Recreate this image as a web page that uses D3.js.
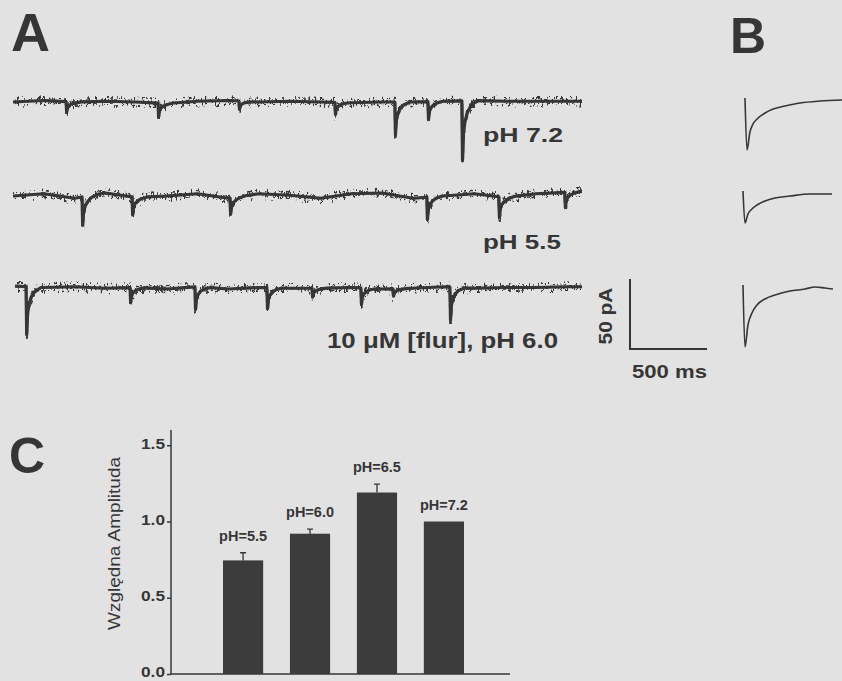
<!DOCTYPE html>
<html>
<head>
<meta charset="utf-8">
<script src="https://cdn.jsdelivr.net/npm/d3@7"></script>
<style>
  html, body { margin: 0; padding: 0; background: #e2e2e2; }
  svg { display: block; font-family: "Liberation Sans", Arial, sans-serif; }
</style>
</head>
<body>
<div id="chart"></div>
<script>
// panel A: spontaneous currents, event time (ms) and amplitude (pA)
const traceNames = ["pH 7.2", "pH 5.5", "10 \u03bcM [flur], pH 6.0"];
const traceSpan = [[0, 3700], [0, 3700], [13, 3700]];
const knotTimes = [0, 200, 400, 600, 800, 1000, 1200, 1400, 1600, 1800, 2000, 2200, 2400, 2600, 2800, 3000, 3200, 3400, 3600, 3700];
const drift72 = [0, 1, 0, 0.5, 0, -1, 0.5, 1, 0, 0.5, 0, -0.5, 0, 0, 0.5, 1, 0.5, 0.5, 0.5, 0.5];
const drift55 = [0, 1.5, -1.5, 2, -1, 0, 1.5, -1.5, 1.5, 0.5, -1.5, 1.5, 2, -1.5, 0, 1.5, -1, 1.5, 2.5, 3];
const driftFlur = [2, 1, 1.5, 0.5, 1, 0, 1.5, 0, 1, 0.5, 0.5, 1, 0, 0.5, 1.5, 0.5, 1, 1, 1.5, 1.5];
const events72 = [[345, 7], [943, 9], [1469, 5.5], [2093, 8], [2483, 22], [2698, 12], [2919, 40]];
const events55 = [[449, 19], [774, 12], [1411, 11], [2691, 15], [3159, 14], [3588, 10]];
const eventsFlur = [[85, 32], [761, 10], [1183, 15], [1651, 14], [1944, 6], [2262, 11], [2470, 5], [2841, 22]];
// normalised event shape
const shapeT = [0, 4, 10, 20, 35, 60, 100];
const shapeF = [0, 1, 0.55, 0.35, 0.2, 0.08, 0];

// panel B: averaged currents, [ms, pA]
const avg72 = [[0, 1.3], [13, -33.3], [32, -21.3], [52, -16], [78, -12.7], [130, -8.7], [182, -6], [260, -4], [357, -2], [487, -0.7], [630, 0]];
const avg55 = [[0, 1.3], [13, -20], [32, -14], [58, -10.7], [91, -8], [143, -5.3], [208, -3.3], [305, -2], [435, -0.7], [578, -0.7]];
const avgFlur = [[0, 2], [13, -39.3], [32, -24.7], [58, -16.7], [91, -11.3], [143, -7.3], [208, -4.7], [305, -2], [402, -0.7], [467, 0.7], [532, 0], [584, -0.7]];

// panel C
const categories = ["pH=5.5", "pH=6.0", "pH=6.5", "pH=7.2"];
const amplitude = [0.745, 0.92, 1.19, 1.0];
const sem = [0.05, 0.03, 0.055, 0];
const yTicks = [0, 0.5, 1.0, 1.5];

const W = 842, H = 681;
const ink = "#363636";
const svg = d3.select("#chart").append("svg").attr("width", W).attr("height", H);
svg.append("rect").attr("width", W).attr("height", H).attr("fill", "#e2e2e2");

// scanned-trace roughness: vertical-only jitter
const defs = svg.append("defs");
const jit = defs.append("filter").attr("id", "jit")
  .attr("color-interpolation-filters", "sRGB")
  .attr("x", "-2%").attr("y", "-40%").attr("width", "104%").attr("height", "180%");
jit.append("feTurbulence").attr("type", "fractalNoise").attr("baseFrequency", "0.45 0.2")
  .attr("numOctaves", 2).attr("seed", 4).attr("result", "n");
jit.append("feColorMatrix").attr("in", "n").attr("type", "matrix")
  .attr("values", "0 0 0 0 0.5  0 2.2 0 0 -0.6  0 0 1 0 0  0 0 0 0 1").attr("result", "m");
jit.append("feDisplacementMap").attr("in", "SourceGraphic").attr("in2", "m")
  .attr("scale", 9).attr("xChannelSelector", "R").attr("yChannelSelector", "G");

// panel letters
[["A", 11, 51, 54], ["B", 730, 53, 50], ["C", 9, 473, 50]].forEach(([t, x, y, s]) => {
  svg.append("text").attr("x", x).attr("y", y).attr("font-size", s)
    .attr("font-weight", "bold").attr("fill", ink).text(t);
});

// ---- A
const xA = d3.scaleLinear().domain([0, 3700]).range([13, 582]);
const shape = d3.scaleLinear().domain(shapeT).range(shapeF).clamp(true);
const traces = [
  { drift: drift72, events: events72, base: 102, label: [483, 142, 21, 80] },
  { drift: drift55, events: events55, base: 196, label: [483, 249, 21, 78] },
  { drift: driftFlur, events: eventsFlur, base: 289, label: [327, 348, 22, 231] },
];
traces.forEach((tr, i) => {
  const drift = d3.scaleLinear().domain(knotTimes).range(tr.drift);
  const y = d3.scaleLinear().domain([0, -50]).range([tr.base, tr.base + 75]);
  const [t0, t1] = traceSpan[i];
  let ts = knotTimes.filter(t => t >= t0 && t <= t1).concat([t0, t1]);
  tr.events.forEach(([te]) => shapeT.forEach(d => ts.push(te + d)));
  ts = Array.from(new Set(ts)).filter(t => t >= t0 && t <= t1).sort((a, b) => a - b);
  const pts = ts.map(t => [t, drift(t) - d3.sum(tr.events, ([te, a]) => a * (t < te ? 0 : shape(t - te)))]);
  const line = d3.line().x(d => xA(d[0])).y(d => y(d[1]));
  svg.append("path").datum(pts).attr("d", line)
    .attr("fill", "none").attr("stroke", ink).attr("stroke-width", 3.2)
    .attr("stroke-linejoin", "round");
  svg.append("path").datum(pts).attr("d", line)
    .attr("fill", "none").attr("stroke", ink).attr("stroke-width", 2.6)
    .attr("stroke-linejoin", "round").attr("filter", "url(#jit)");
  const [lx, ly, fs, len] = tr.label;
  svg.append("text").attr("x", lx).attr("y", ly).attr("font-size", fs)
    .attr("font-weight", "bold").attr("fill", ink)
    .attr("textLength", len).attr("lengthAdjust", "spacingAndGlyphs")
    .text(traceNames[i]);
});

// scale bar
svg.append("path").attr("d", "M630,279V349H707").attr("fill", "none")
  .attr("stroke", ink).attr("stroke-width", 2);
svg.append("text").attr("transform", "translate(612,316) rotate(-90)")
  .attr("text-anchor", "middle").attr("font-size", 18).attr("font-weight", "bold")
  .attr("fill", ink).attr("textLength", 57).attr("lengthAdjust", "spacingAndGlyphs").text("50 pA");
svg.append("text").attr("x", 632).attr("y", 378).attr("font-size", 18)
  .attr("font-weight", "bold").attr("fill", ink)
  .attr("textLength", 75).attr("lengthAdjust", "spacingAndGlyphs").text("500 ms");

// ---- B
[[avg72, 745, 100], [avg55, 743, 193], [avgFlur, 743, 288]].forEach(([data, x0, base]) => {
  const x = d3.scaleLinear().domain([0, 500]).range([x0, x0 + 77]);
  const y = d3.scaleLinear().domain([0, -50]).range([base, base + 75]);
  svg.append("path").datum(data)
    .attr("d", d3.line().x(d => x(d[0])).y(d => y(d[1])).curve(d3.curveMonotoneX))
    .attr("fill", "none").attr("stroke", ink).attr("stroke-width", 1.6);
});

// ---- C
const x = d3.scaleBand().domain(categories).range([223, 464]).paddingInner(0.4);
const y = d3.scaleLinear().domain([0, 1.6]).range([674, 430]);

svg.append("line").attr("x1", 171).attr("x2", 171).attr("y1", y(0)).attr("y2", y(1.6))
  .attr("stroke", ink).attr("stroke-width", 1.5);
svg.append("line").attr("x1", 171).attr("x2", 510).attr("y1", y(0)).attr("y2", y(0))
  .attr("stroke", ink).attr("stroke-width", 1.5);

const gy = svg.append("g").attr("transform", "translate(171,0)")
  .call(d3.axisLeft(y).tickValues(yTicks).tickSize(4).tickFormat(d3.format(".1f")));
gy.select(".domain").remove();
gy.selectAll("line").attr("stroke", ink).attr("stroke-width", 1.5);
gy.selectAll("text").attr("font-size", 14).attr("font-weight", "bold")
  .attr("fill", ink).attr("font-family", "Liberation Sans, Arial, sans-serif")
  .attr("x", -6).attr("dy", "0.2em")
  .attr("textLength", 24).attr("lengthAdjust", "spacingAndGlyphs");

svg.append("text").attr("transform", `translate(120,${(457 + 630) / 2}) rotate(-90)`)
  .attr("text-anchor", "middle").attr("font-size", 17).attr("fill", ink)
  .attr("textLength", 173).attr("lengthAdjust", "spacingAndGlyphs").text("Względna Amplituda");

categories.forEach((c, i) => {
  const cx = x(c) + x.bandwidth() / 2;
  svg.append("rect").attr("x", x(c)).attr("y", y(amplitude[i]))
    .attr("width", x.bandwidth()).attr("height", y(0) - y(amplitude[i]))
    .attr("fill", "#3c3c3c");
  if (sem[i] > 0) {
    const top = y(amplitude[i] + sem[i]);
    svg.append("path").attr("d", `M${cx},${y(amplitude[i])}V${top}M${cx - 3},${top}H${cx + 3}`)
      .attr("stroke", ink).attr("stroke-width", 1.3).attr("fill", "none");
  }
  svg.append("text").attr("x", cx).attr("y", y(amplitude[i] + sem[i]) - 12)
    .attr("text-anchor", "middle").attr("font-size", 14.5).attr("font-weight", "bold")
    .attr("fill", ink).text(c);
});
</script>
</body>
</html>
